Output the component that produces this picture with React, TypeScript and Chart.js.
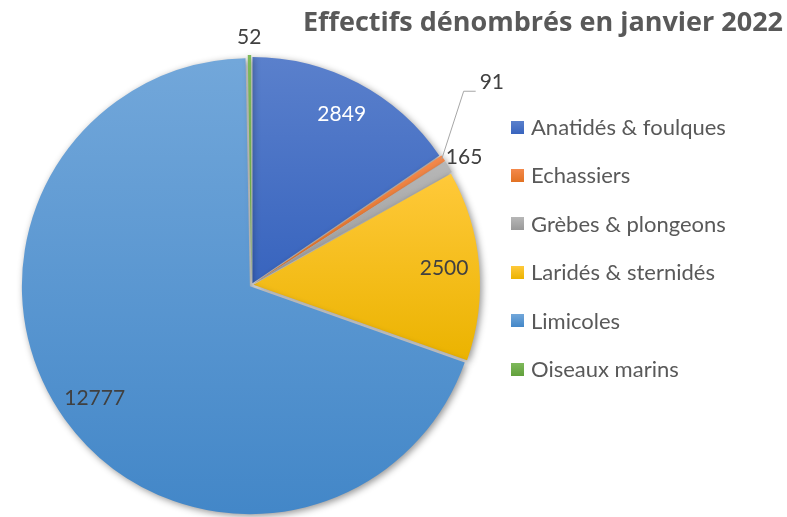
import React, { useEffect, useRef } from "react";
import { Chart, registerables } from "chart.js";

Chart.register(...registerables);

const TITLE = "Effectifs dénombrés en janvier 2022";
const categories = [
  "Anatidés & foulques",
  "Echassiers",
  "Grèbes & plongeons",
  "Laridés & sternidés",
  "Limicoles",
  "Oiseaux marins",
];
const counts = [2849, 91, 165, 2500, 12777, 52];

const baseColors = ["#4472C4", "#ED7D31", "#A5A5A5", "#FFC000", "#5B9BD5", "#70AD47"];
const lightColors = ["#5A80CC", "#F4894B", "#B7B7B7", "#FFC93A", "#72A7DA", "#7EB95B"];
const darkColors = ["#3864BE", "#E27223", "#999999", "#EBB300", "#4387C8", "#62A03B"];
// label placement: in = inside slice, out = just outside, callout = with leader line
const labelModes = ["in", "callout", "out", "in", "in", "out"];
const labelColors = ["#FFFFFF", "#404040", "#404040", "#404040", "#404040", "#404040"];

const W = 787;
const H = 517;
const FONT = "Lato, 'Open Sans', sans-serif";

function arcGradient(ctx: any) {
  const chart = ctx.chart;
  const i = ctx.dataIndex;
  const meta = chart.getDatasetMeta(0);
  const arc: any = meta && meta.data ? meta.data[i] : null;
  if (!arc || arc.x == null || !isFinite(arc.outerRadius) || !arc.outerRadius) return baseColors[i];
  const { x, y, startAngle, endAngle, outerRadius } = arc;
  const ys = [y, y + Math.sin(startAngle) * outerRadius, y + Math.sin(endAngle) * outerRadius];
  const within = (a: number) => {
    for (let k = -2; k <= 2; k++) {
      const aa = a + k * 2 * Math.PI;
      if (aa >= startAngle && aa <= endAngle) return true;
    }
    return false;
  };
  if (within(-Math.PI / 2)) ys.push(y - outerRadius);
  if (within(Math.PI / 2)) ys.push(y + outerRadius);
  const y0 = Math.min(...ys);
  const y1 = Math.max(...ys);
  const g = chart.ctx.createLinearGradient(0, y0, 0, y1 + 0.01);
  g.addColorStop(0, lightColors[i]);
  g.addColorStop(1, darkColors[i]);
  return g;
}

const shadowPlugin = {
  id: "sliceShadow",
  beforeDatasetDraw(chart: any) {
    const c = chart.ctx;
    c.save();
    c.shadowColor = "rgba(0,0,0,0.42)";
    c.shadowBlur = 7;
    c.shadowOffsetX = 2;
    c.shadowOffsetY = 2;
  },
  afterDatasetDraw(chart: any) {
    chart.ctx.restore();
  },
};

const labelPlugin = {
  id: "sliceLabels",
  afterDatasetsDraw(chart: any) {
    const c = chart.ctx;
    const meta = chart.getDatasetMeta(0);
    c.save();
    c.font = `21px ${FONT}`;
    meta.data.forEach((arc: any, i: number) => {
      const { x, y, startAngle, endAngle, outerRadius } = arc;
      const off = arc.options.offset || 0;
      const mid = (startAngle + endAngle) / 2;
      const ux = Math.cos(mid);
      const uy = Math.sin(mid);
      const cx = x + ux * off;
      const cy = y + uy * off;
      const text = String(chart.data.datasets[0].data[i]);
      c.fillStyle = labelColors[i];
      const mode = labelModes[i];
      if (mode === "in") {
        const r = outerRadius * 0.82;
        c.textAlign = "center";
        c.textBaseline = "middle";
        c.fillText(text, cx + ux * r, cy + uy * r);
      } else if (mode === "out") {
        const r = outerRadius + 14;
        c.textAlign = "center";
        c.textBaseline = "middle";
        c.fillText(text, cx + ux * r, cy + uy * r);
      } else {
        const sx = cx + ux * (outerRadius - 6);
        const sy = cy + uy * (outerRadius - 6);
        const ex = sx + 22;
        const ey = sy - 68;
        const tx = ex + 12;
        c.strokeStyle = "#A6A6A6";
        c.lineWidth = 1;
        c.beginPath();
        c.moveTo(sx, sy);
        c.lineTo(ex, ey);
        c.lineTo(tx, ey);
        c.stroke();
        c.textAlign = "left";
        c.textBaseline = "middle";
        c.fillText(text, tx + 4, ey - 9);
      }
    });
    c.restore();
  },
};

export default function App() {
  const ref = useRef<HTMLCanvasElement | null>(null);

  useEffect(() => {
    if (!ref.current) return;
    const chart = new Chart(ref.current, {
      type: "pie",
      data: {
        labels: categories,
        datasets: [
          {
            data: counts,
            backgroundColor: arcGradient as any,
            borderWidth: 0,
            offset: 8,
            radius: 226,
          } as any,
        ],
      },
      options: {
        responsive: false,
        animation: false,
        events: [],
        layout: { padding: { left: 0, right: W - 503, top: 53, bottom: 0 } },
        plugins: {
          legend: { display: false },
          title: { display: false },
          tooltip: { enabled: false },
        },
      },
      plugins: [shadowPlugin, labelPlugin],
    });
    chart.update();
    return () => chart.destroy();
  }, []);

  return (
    <div style={{ position: "fixed", left: 0, top: 0, width: W, height: H, background: "#fff", overflow: "hidden" }}>
      <canvas ref={ref} width={W} height={H} style={{ position: "absolute", left: 0, top: 0, width: W, height: H }} />
      <div
        style={{
          position: "absolute",
          left: 243,
          top: 3,
          width: 600,
          textAlign: "center",
          font: `bold 27px 'Open Sans', sans-serif`,
          lineHeight: "36px",
          color: "#595959",
          whiteSpace: "nowrap",
        }}
      >
        {TITLE}
      </div>
      {categories.map((name, i) => (
        <div
          key={name}
          style={{
            position: "absolute",
            left: 511,
            top: 127 + i * 48.4 - 13,
            height: 26,
            display: "flex",
            alignItems: "center",
            whiteSpace: "nowrap",
          }}
        >
          <span
            style={{
              display: "inline-block",
              width: 13,
              height: 13,
              background: `linear-gradient(${lightColors[i]}, ${darkColors[i]})`,
              marginRight: 7,
            }}
          />
          <span style={{ font: `22px ${FONT}`, lineHeight: "26px", color: "#595959" }}>{name}</span>
        </div>
      ))}
    </div>
  );
}
